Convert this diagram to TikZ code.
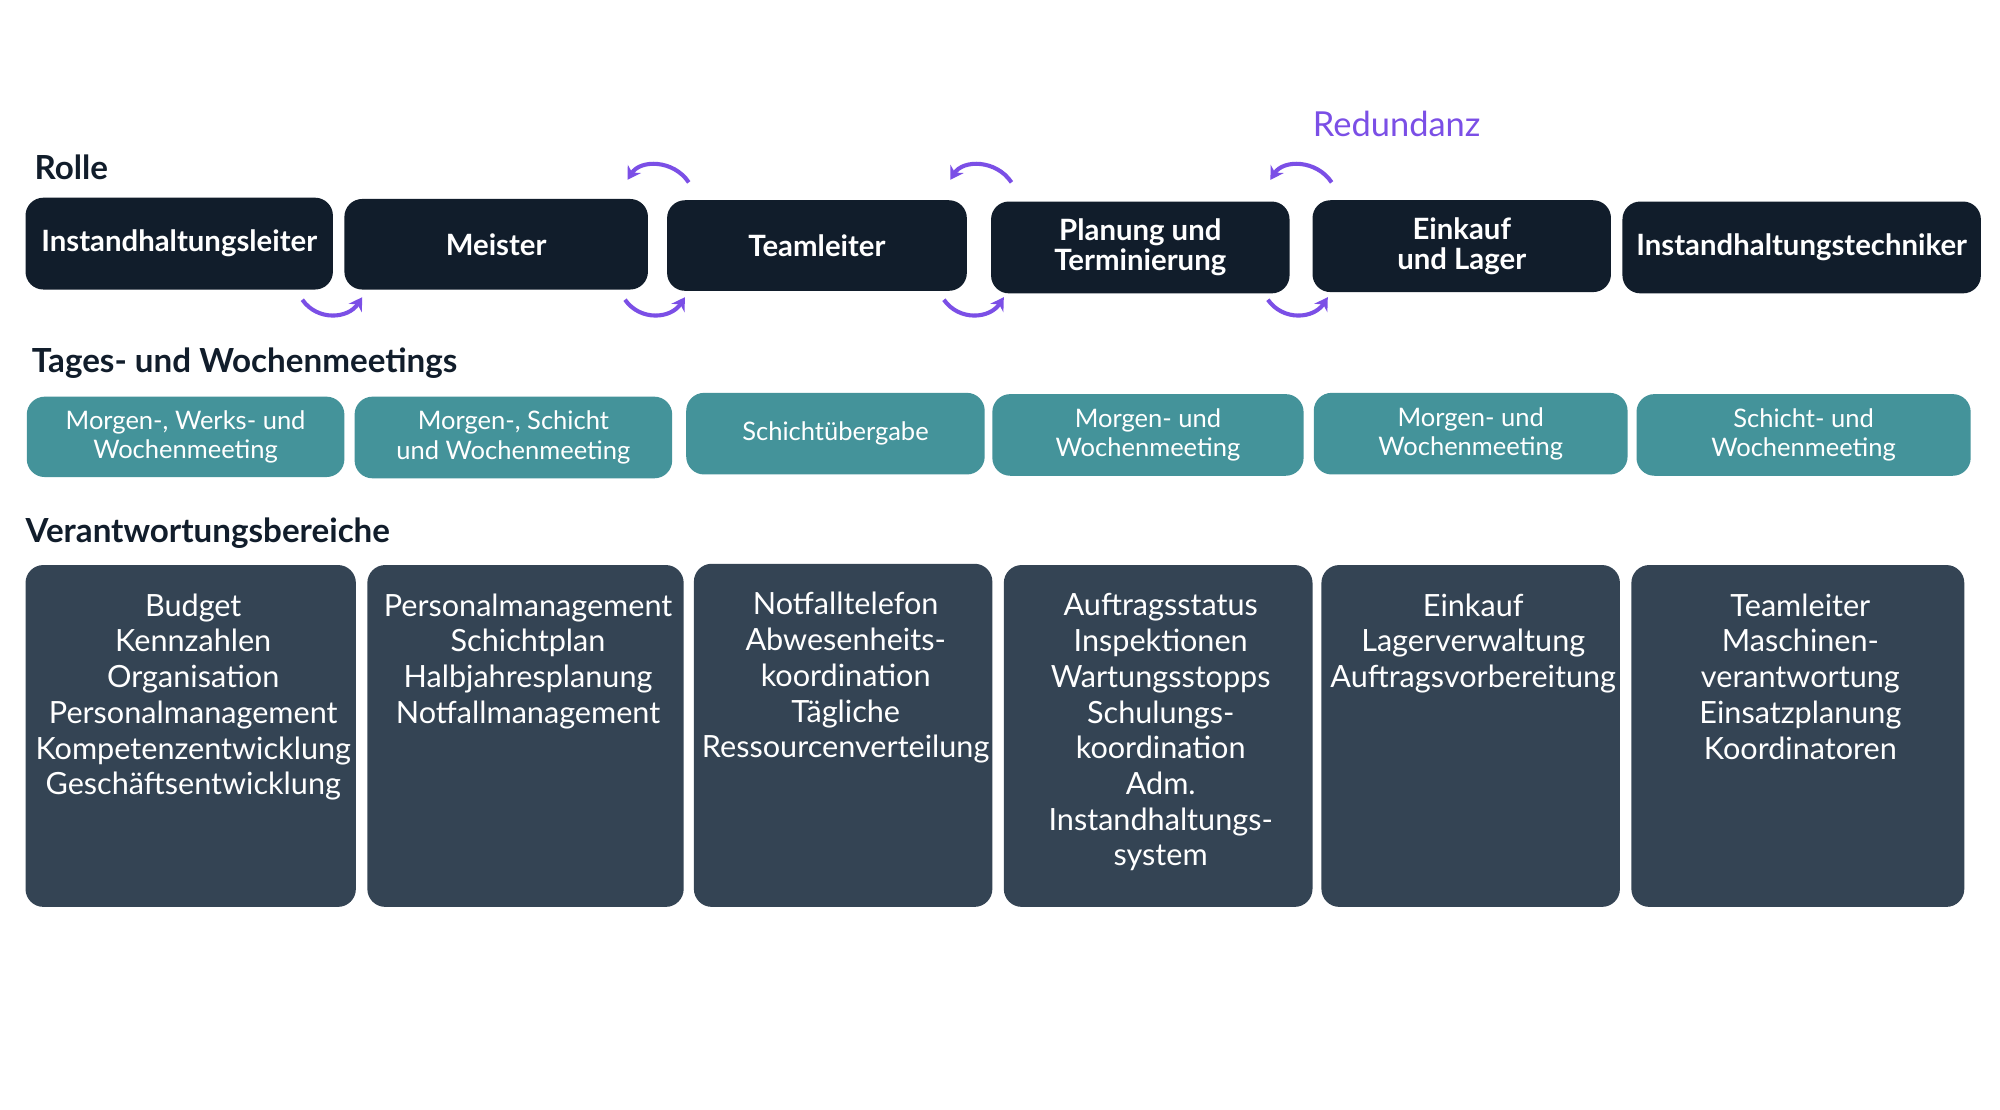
\documentclass[tikz,border=0pt]{standalone}
\usepackage{fontspec}
\setmainfont{Lato}
\usetikzlibrary{arrows.meta}
\definecolor{navy}{HTML}{111D2B}
\definecolor{teal}{HTML}{44939A}
\definecolor{slate}{HTML}{344454}
\definecolor{purp}{HTML}{7B4FE6}
\begin{document}
\begin{tikzpicture}[x=0.5pt,y=-0.5pt,
  box/.style={draw=none,rounded corners=6pt},
  role/.style={text=white,font=\fontsize{11.5}{12}\selectfont\bfseries,align=center},
  meet/.style={text=white,font=\fontsize{10}{11.5}\selectfont,align=center},
  resp/.style={text=white,font=\fontsize{12}{14}\selectfont,align=center,anchor=north,inner sep=0pt},
  head/.style={anchor=west,font=\fontsize{13}{14}\selectfont\bfseries,text=navy},
  arr/.style={purp,line width=1.6pt,-{Stealth[length=5pt,width=6pt]}}]
\useasboundingbox (0,0) rectangle (1568,870);
\fill[white] (0,0) rectangle (1568,870);
\node[head] (h1) at (20,131) {Rolle};
\node[head] (h2) at (18,285) {Tages- und Wochenmeetings};
\node[head] (h3) at (13,418) {Verantwortungsbereiche};
\node[font=\fontsize{13.5}{14}\selectfont,text=purp] (red) at (1095,97) {Redundanz};
% roles
\foreach \i/\a/\b/\c/\d/\t in {1/20/261/155/227/Instandhaltungsleiter,2/270/508/156/227/Meister/Ingenieur,3/523/758/157/228/Teamleiter,4/777/1011/158/230/{Planung und\\Terminierung},5/1029/1263/157/229/{Einkauf\\und Lager},6/1272/1553/158/230/Instandhaltungstechniker}{
  \fill[navy,rounded corners=7pt] (\a,\c) rectangle (\b,\d);
  \node[role] (r\i) at ({(\a+\b)/2},{(\c+\d)/2}) {\t};
}
% meetings
\foreach \i/\a/\b/\c/\d/\t in {1/21/270/311/374/{Morgen-, Werks- und\\Wochenmeeting},2/278/527/311/375/{Morgen-, Schicht\\und Wochenmeeting},3/538/772/308/372/Schichtübergabe,4/778/1022/309/373/{Morgen- und\\Wochenmeeting},5/1030/1276/308/372/{Morgen- und\\Wochenmeeting},6/1283/1545/309/373/{Schicht- und\\Wochenmeeting}}{
  \fill[teal,rounded corners=7pt] (\a,\c) rectangle (\b,\d);
  \node[meet] (m\i) at ({(\a+\b)/2},{(\c+\d)/2}) {\t};
}
% responsibilities
\foreach \i/\a/\b/\c/\t in {1/20/279/443/{Budget\\Kennzahlen\\Organisation\\Personalmanagement\\Kompetenzentwicklung\\Geschäftsentwicklung},2/288/536/443/{Personalmanagement\\Schichtplan\\Halbjahresplanung\\Notfallmanagement},3/544/778/442/{Notfalltelefon\\Abwesenheits-\\koordination\\Tägliche\\Ressourcenverteilung},4/787/1029/443/{Auftragsstatus\\Inspektionen\\Wartungsstopps\\Schulungs-\\koordination\\Adm.\\Instandhaltungs-\\system},5/1036/1270/443/{Einkauf\\Lagerverwaltung\\Auftragsvorbereitung},6/1279/1540/443/{Teamleiter\\Maschinen-\\verantwortung\\Einsatzplanung\\Koordinatoren}}{
  \fill[slate,rounded corners=7pt] (\a,\c) rectangle (\b,711);
  \node[resp] (v\i) at ({(\a+\b)/2+2},{\c+22}) {\t};
}
\node[resp] at (0,0) {};
% arrows bottom (right)
\foreach \x in {237,490,740,994}{
  \draw[arr] (\x,235) .. controls (\x+12,252) and (\x+36,250) .. (\x+47,233);
}
% arrows top (left)
\foreach \x in {540,793,1044}{
  \draw[arr] (\x,143) .. controls (\x-12,125) and (\x-38,125) .. (\x-48,141);
}
\end{tikzpicture}
\end{document}
